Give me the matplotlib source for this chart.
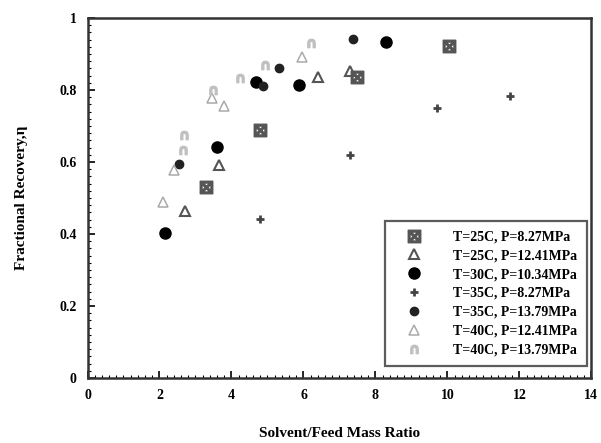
import numpy as np
import matplotlib.pyplot as plt
from matplotlib.ticker import MultipleLocator

plt.rcParams['font.family'] = ['Liberation Serif', 'DejaVu Serif']
plt.rcParams['font.weight'] = 'bold'
plt.rcParams['mathtext.fontset'] = 'dejavusans'

# data
x_25_827 = [3.3, 4.8, 7.5, 10.05]
y_25_827 = [0.531, 0.689, 0.837, 0.922]

x_25_1241 = [2.7, 3.65, 6.4, 7.3]
y_25_1241 = [0.465, 0.592, 0.837, 0.852]

x_30_1034 = [2.15, 3.6, 4.68, 5.88, 8.3]
y_30_1034 = [0.402, 0.641, 0.822, 0.814, 0.934]

x_35_827 = [4.8, 7.3, 9.7, 11.75]
y_35_827 = [0.443, 0.62, 0.749, 0.783]

x_35_1379 = [2.55, 4.88, 5.33, 7.37]
y_35_1379 = [0.595, 0.81, 0.86, 0.941]

x_40_1241 = [2.1, 2.4, 3.45, 3.8, 5.95]
y_40_1241 = [0.49, 0.577, 0.778, 0.755, 0.893]

x_40_1379 = [2.65, 2.68, 3.5, 4.24, 4.93, 6.2]
y_40_1379 = [0.633, 0.676, 0.8, 0.833, 0.869, 0.93]

labels = ['T=25C, P=8.27MPa', 'T=25C, P=12.41MPa', 'T=30C, P=10.34MPa',
          'T=35C, P=8.27MPa', 'T=35C, P=13.79MPa', 'T=40C, P=12.41MPa',
          'T=40C, P=13.79MPa']

fig = plt.figure(figsize=(6.01, 4.43), dpi=100)
ax = fig.add_axes([0.1456, 0.1467, 0.8384, 0.8126])

ax.plot(x_25_827, y_25_827, ls='none', marker=r'$\boxtimes$', ms=9, color='#555555', label=labels[0])
ax.plot(x_25_1241, y_25_1241, ls='none', marker='^', ms=7, mfc='none', mec='#555555', mew=1.5, label=labels[1])
ax.plot(x_30_1034, y_30_1034, ls='none', marker='o', ms=8, color='black', label=labels[2])
ax.plot(x_35_827, y_35_827, ls='none', marker='+', ms=6, mew=2.0, color='#444444', label=labels[3])
ax.plot(x_35_1379, y_35_1379, ls='none', marker='o', ms=6, color='#222222', label=labels[4])
ax.plot(x_40_1241, y_40_1241, ls='none', marker='^', ms=7, mfc='none', mec='#aaaaaa', mew=1.1, label=labels[5])
ax.plot(x_40_1379, y_40_1379, ls='none', marker=r'$\cap$', ms=6, color='#c0c0c0', label=labels[6])

ax.set_xlim(0, 14)
ax.set_ylim(0, 1)
ax.xaxis.set_major_locator(MultipleLocator(2))
ax.xaxis.set_minor_locator(MultipleLocator(0.2))
ax.yaxis.set_major_locator(MultipleLocator(0.2))
ax.yaxis.set_minor_locator(MultipleLocator(0.02))
ax.set_xticks(range(0, 15, 2), [str(v) for v in range(0, 15, 2)])
ax.set_yticks([0, 0.2, 0.4, 0.6, 0.8, 1], ['0', '0.2', '0.4', '0.6', '0.8', '1'])
ax.tick_params(which='both', direction='in', labelsize=10)
ax.tick_params(which='major', length=5, width=1.2, pad=8)
ax.tick_params(which='minor', length=2.5, width=0.8)
for s in ax.spines.values():
    s.set_linewidth(1.8)
    s.set_color('#333333')

ax.set_xlabel('Solvent/Feed Mass Ratio', fontsize=11, fontweight='bold', labelpad=18)
ax.set_ylabel('Fractional Recovery,η', fontsize=11, fontweight='bold', labelpad=22)

leg = ax.legend(loc='lower right', bbox_to_anchor=(0.997, 0.025), fontsize=10,
                frameon=True, fancybox=False, edgecolor='#333333',
                handletextpad=1.4, labelspacing=0.42, borderpad=0.7,
                handlelength=2.8, borderaxespad=0.2)
leg.get_frame().set_linewidth(1.6)

fig.savefig('out.png', dpi=100)
